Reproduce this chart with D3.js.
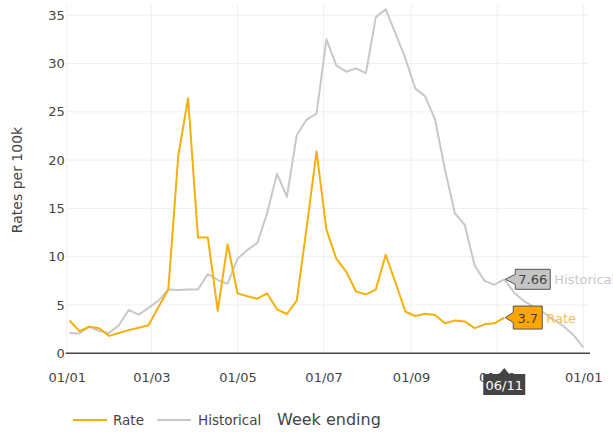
<!DOCTYPE html>
<html><head><meta charset="utf-8">
<script src="https://cdn.jsdelivr.net/npm/d3@7"></script>
<style>
html,body{margin:0;padding:0;background:#fff;overflow:hidden;}
svg{display:block;font-family:"DejaVu Sans",Verdana,sans-serif;}
</style></head>
<body><svg id="c" width="613" height="432"></svg>
<script>
const weeks = ["2020-01-03","2020-01-10","2020-01-17","2020-01-24","2020-01-31",
"2020-02-07","2020-02-14","2020-02-21","2020-02-28",
"2020-03-06","2020-03-13","2020-03-20","2020-03-27",
"2020-04-03","2020-04-10","2020-04-17","2020-04-24",
"2020-05-01","2020-05-08","2020-05-15","2020-05-22","2020-05-29",
"2020-06-05","2020-06-12","2020-06-19","2020-06-26",
"2020-07-03","2020-07-10","2020-07-17","2020-07-24","2020-07-31",
"2020-08-07","2020-08-14","2020-08-21","2020-08-28",
"2020-09-04","2020-09-11","2020-09-18","2020-09-25",
"2020-10-02","2020-10-09","2020-10-16","2020-10-23","2020-10-30",
"2020-11-06","2020-11-13","2020-11-20","2020-11-27",
"2020-12-04","2020-12-11","2020-12-18","2020-12-25","2021-01-01"];
const rate = [3.4,2.3,2.75,2.6,1.8,2.1,2.4,2.65,2.9,4.8,6.6,20.4,26.4,12.0,12.0,4.4,11.3,6.2,5.9,5.65,6.2,4.55,4.07,5.45,13.0,20.9,12.8,9.8,8.45,6.4,6.1,6.6,10.2,7.3,4.3,3.86,4.1,3.96,3.1,3.4,3.3,2.6,3.0,3.1,3.7];
const historical = [2.1,2.05,2.75,2.3,2.1,2.9,4.5,4.0,4.7,5.45,6.6,6.55,6.6,6.6,8.2,7.6,7.2,9.8,10.7,11.4,14.5,18.6,16.2,22.6,24.2,24.8,32.5,29.8,29.15,29.5,29.0,34.8,35.6,33.1,30.5,27.4,26.6,24.2,19.0,14.5,13.3,9.1,7.5,7.1,7.66,6.3,5.4,4.8,4.2,3.5,2.8,1.9,0.6];
const yTicks = [0,5,10,15,20,25,30,35];
const xTickDates = ["2020-01-01","2020-03-01","2020-05-01","2020-07-01","2020-09-01","2020-11-01","2021-01-01"];
const hoverIndex = 44;
const hoverDateLabel = "06/11";

const FONT = '"DejaVu Sans",Verdana,sans-serif';
const parse = d3.timeParse("%Y-%m-%d");
const svg = d3.select("#c");
const x = d3.scaleTime().domain([parse("2020-01-01"), parse("2021-01-01")]).range([66.7, 583.3]);
const y = d3.scaleLinear().domain([0, 35]).range([353.3, 15.2]);
const plotL = 66.7, plotR = 588, plotT = 5;

// grid
const g = svg.append("g");
g.selectAll("line.hg").data(yTicks.filter(d=>d>0)).join("line")
  .attr("x1", plotL).attr("x2", plotR).attr("y1", d=>y(d)).attr("y2", d=>y(d))
  .attr("stroke", "#efefef").attr("stroke-width", 1);
g.selectAll("line.vg").data(xTickDates.map(parse)).join("line")
  .attr("x1", d=>x(d)).attr("x2", d=>x(d)).attr("y1", plotT).attr("y2", y(0))
  .attr("stroke", "#efefef").attr("stroke-width", 1);

// y axis labels
const yAxis = d3.axisLeft(y).tickValues(yTicks).tickSize(0).tickPadding(1.5);
const ya = svg.append("g").attr("transform", `translate(${plotL-0.5},0)`).call(yAxis);
ya.select(".domain").remove();
ya.selectAll("text").attr("font-size", 13).attr("fill", "#444").attr("font-family", FONT);

// x axis labels
const xAxis = d3.axisBottom(x).tickValues(xTickDates.map(parse)).tickFormat(d3.timeFormat("%d/%m")).tickSize(0).tickPadding(19);
const xa = svg.append("g").attr("transform", `translate(0,${y(0)})`).call(xAxis);
xa.select(".domain").remove();
xa.selectAll("text").attr("font-size", 13).attr("fill", "#444").attr("font-family", FONT);

// zero line
svg.append("line").attr("x1", plotL-1).attr("x2", 590).attr("y1", y(0)).attr("y2", y(0))
  .attr("stroke", "#444").attr("stroke-width", 1.6);

// lines
const dates = weeks.map(parse);
const line = d3.line().x(d=>x(d[0])).y(d=>y(d[1]));
svg.append("path").datum(historical.map((v,i)=>[dates[i],v])).attr("d", line)
  .attr("fill","none").attr("stroke","#c8c8c8").attr("stroke-width",2).attr("stroke-linejoin","round");
svg.append("path").datum(rate.map((v,i)=>[dates[i],v])).attr("d", line)
  .attr("fill","none").attr("stroke","#f5b00c").attr("stroke-width",2).attr("stroke-linejoin","round");

// y title
svg.append("text").attr("transform","translate(22,180) rotate(-90)").attr("text-anchor","middle")
  .attr("font-size",14).attr("fill","#444").text("Rates per 100k");

// legend
const leg = svg.append("g");
leg.append("line").attr("x1",73).attr("x2",107).attr("y1",420).attr("y2",420).attr("stroke","#f5b00c").attr("stroke-width",2);
leg.append("text").attr("x",113).attr("y",425).attr("font-size",13.5).attr("fill","#444").text("Rate");
leg.append("line").attr("x1",157).attr("x2",191).attr("y1",420).attr("y2",420).attr("stroke","#c8c8c8").attr("stroke-width",2);
leg.append("text").attr("x",198).attr("y",425).attr("font-size",13.5).attr("fill","#444").text("Historical");
svg.append("text").attr("x",277).attr("y",425).attr("font-size",16).attr("fill","#444").text("Week ending");

// hover labels
function hoverLabel(px, py, a, w, h, fill, stroke, val, name, nameColor) {
  const gg = svg.append("g").attr("transform", `translate(${px},${py})`);
  gg.append("path").attr("d", `M0,0 L${a},-5 L${a},${-h/2} L${a+w},${-h/2} L${a+w},${h/2} L${a},${h/2} L${a},5 Z`)
    .attr("fill", fill).attr("stroke", stroke).attr("stroke-width", 1);
  gg.append("text").attr("x", a + w/2).attr("y", 5).attr("text-anchor","middle")
    .attr("font-size",13).attr("fill","#444").text(val);
  gg.append("text").attr("x", a + w + 4).attr("y", 5)
    .attr("font-size",13).attr("fill",nameColor).text(name);
}
const hd = dates[hoverIndex];
hoverLabel(x(hd)+1, y(historical[hoverIndex]), 10, 35, 20, "#c4c4c4", "#555", String(historical[hoverIndex]), "Historical", "#c8c8c8");
hoverLabel(x(hd)+1, y(rate[hoverIndex]), 8, 29, 23, "#ffa500", "#555", String(rate[hoverIndex]), "Rate", "#f7bd4f");

// x spike label
const sx = x(hd);
const sg = svg.append("g").attr("transform", `translate(${sx},368)`);
sg.append("path").attr("d", "M0,0 L5,6 L21,6 L21,27 L-21,27 L-21,6 L-5,6 Z").attr("fill","#444");
sg.append("text").attr("x",0).attr("y",22).attr("text-anchor","middle").attr("font-size",13).attr("fill","#fff").text(hoverDateLabel);
</script></body></html>
